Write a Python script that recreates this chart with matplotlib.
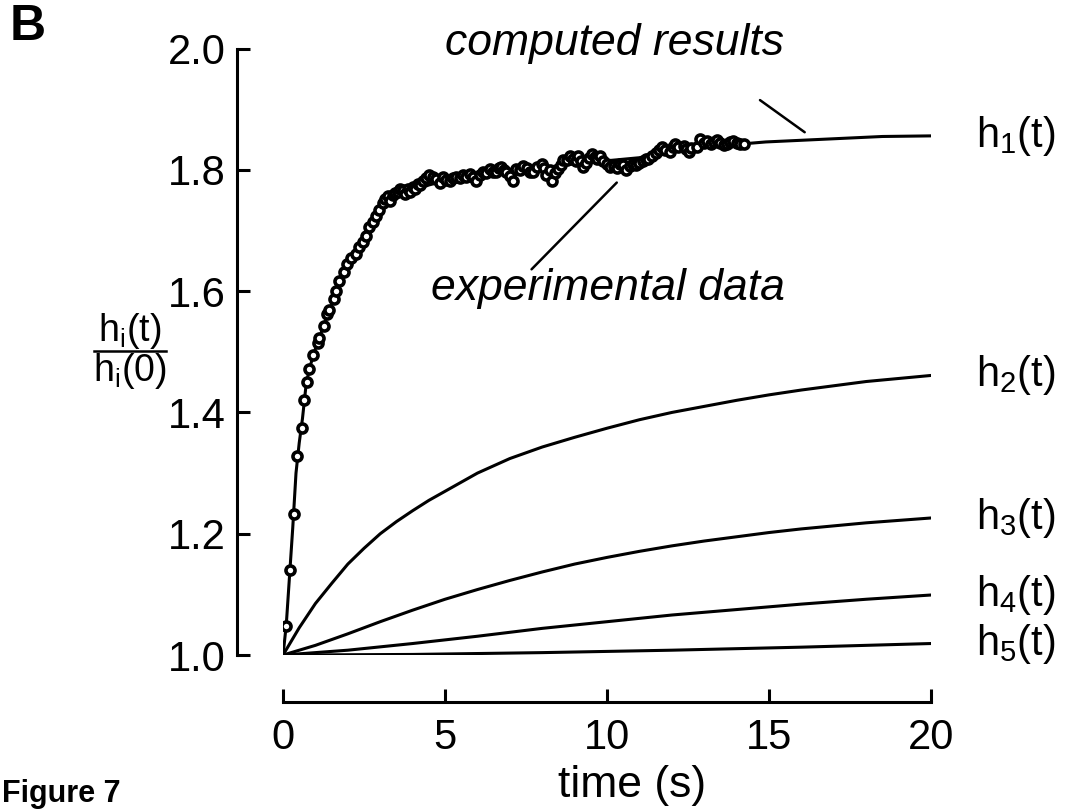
import numpy as np
import matplotlib
matplotlib.use('Agg')
import matplotlib.pyplot as plt
from matplotlib.lines import Line2D

# ---- data ----
# computed h1(t)
t_h1 = [0, 0.1, 0.2, 0.3, 0.4, 0.5, 0.6, 0.7, 0.8, 1.0, 1.2, 1.4, 1.6, 1.8, 2.0,
        2.2, 2.4, 2.6, 2.8, 3.0, 3.2, 3.5, 4.0, 4.5, 5.0, 6.0, 7.5, 9.0, 10.0,
        11.0, 12.0, 13.0, 14.0, 14.9, 16.5, 18.5, 20.0]
h1 = [1.0, 1.05, 1.13, 1.21, 1.30, 1.35, 1.39, 1.44, 1.47, 1.505, 1.535, 1.565,
      1.59, 1.625, 1.645, 1.66, 1.675, 1.695, 1.715, 1.735, 1.745, 1.755, 1.765,
      1.775, 1.782, 1.79, 1.80, 1.81, 1.815, 1.82, 1.83, 1.838, 1.842, 1.846,
      1.850, 1.855, 1.856]

t_h2 = [0, 0.5, 1, 1.5, 2, 2.5, 3, 3.5, 4, 4.5, 5, 6, 7, 8, 9, 10, 11, 12, 13,
        14, 15, 16, 17, 18, 19, 20]
h2 = [1.0, 1.045, 1.085, 1.118, 1.150, 1.176, 1.200, 1.220, 1.238, 1.255, 1.270,
      1.300, 1.324, 1.343, 1.359, 1.374, 1.388, 1.400, 1.410, 1.420, 1.429, 1.437,
      1.444, 1.451, 1.456, 1.461]

t_h3 = [0, 1, 2, 3, 4, 5, 6, 7, 8, 9, 10, 11, 12, 13, 14, 15, 16, 17, 18, 19, 20]
h3 = [1.0, 1.016, 1.035, 1.055, 1.074, 1.092, 1.108, 1.123, 1.137, 1.150, 1.161,
      1.171, 1.180, 1.188, 1.195, 1.202, 1.208, 1.213, 1.218, 1.222, 1.226]

t_h4 = [0, 2, 4, 6, 8, 10, 12, 14, 16, 18, 20]
h4 = [1.0, 1.008, 1.019, 1.031, 1.044, 1.055, 1.066, 1.075, 1.084, 1.092, 1.099]

t_h5 = [0, 4, 8, 12, 16, 20]
h5 = [1.0, 1.001, 1.004, 1.008, 1.013, 1.019]

# experimental data (open circles)
t_exp = [0.10, 0.22, 0.34, 0.44, 0.57, 0.65, 0.73, 0.80, 0.94, 1.07, 1.11, 1.25,
         1.37, 1.42, 1.58, 1.63, 1.73, 1.87, 1.97, 2.10, 2.25, 2.35, 2.46, 2.56,
         2.66, 2.79, 2.87, 2.97, 3.07, 3.15, 3.23, 3.30, 3.38, 3.45, 3.54, 3.62,
         3.69, 3.77, 3.85, 3.92, 4.00, 4.08, 4.16, 4.24, 4.31, 4.40, 4.52, 4.62,
         4.73, 4.83, 4.93, 5.04, 5.14, 5.25, 5.35, 5.45, 5.55, 5.66, 5.76, 5.86,
         5.96, 6.07, 6.17, 6.27, 6.38, 6.48, 6.58, 6.66, 6.73, 6.81, 6.89, 7.00,
         7.10, 7.20, 7.30, 7.41, 7.52, 7.62, 7.72, 7.85, 7.98, 8.05, 8.13, 8.24,
         8.29, 8.38, 8.49, 8.57, 8.65, 8.75, 8.85, 8.95, 9.03, 9.11, 9.19, 9.27,
         9.36, 9.45, 9.53, 9.62, 9.70, 9.78, 9.88, 9.99, 10.1, 10.2, 10.3, 10.4,
         10.5, 10.6, 10.7, 10.8, 10.9, 11.0, 11.1, 11.2, 11.27, 11.4, 11.5, 11.6,
         11.69, 11.8, 11.95, 12.05, 12.1, 12.2, 12.36, 12.45, 12.52, 12.6, 12.77,
         12.88, 13.0, 13.1, 13.2, 13.3, 13.4, 13.5, 13.6, 13.7, 13.8, 13.9, 14.0,
         14.1, 14.22]
h_exp = [1.048, 1.140, 1.233, 1.328, 1.375, 1.420, 1.451, 1.472, 1.495, 1.515,
         1.522, 1.542, 1.562, 1.569, 1.587, 1.600, 1.617, 1.632, 1.645, 1.654,
         1.662, 1.672, 1.681, 1.691, 1.705, 1.714, 1.724, 1.733, 1.746, 1.752,
         1.757, 1.748, 1.758, 1.762, 1.763, 1.768, 1.766, 1.760, 1.769, 1.764,
         1.771, 1.768, 1.777, 1.775, 1.782, 1.786, 1.791, 1.788, 1.785, 1.779,
         1.788, 1.783, 1.782, 1.786, 1.788, 1.786, 1.791, 1.789, 1.793, 1.788,
         1.782, 1.792, 1.796, 1.794, 1.802, 1.796, 1.796, 1.803, 1.805, 1.799,
         1.796, 1.790, 1.782, 1.802, 1.800, 1.807, 1.803, 1.797, 1.796, 1.804,
         1.810, 1.803, 1.791, 1.799, 1.782, 1.795, 1.802, 1.808, 1.816, 1.817,
         1.822, 1.818, 1.815, 1.822, 1.814, 1.805, 1.812, 1.820, 1.826, 1.821,
         1.818, 1.822, 1.815, 1.810, 1.805, 1.807, 1.803, 1.810, 1.808, 1.800,
         1.806, 1.810, 1.808, 1.812, 1.815, 1.818, 1.818, 1.822, 1.828, 1.832,
         1.837, 1.832, 1.829, 1.838, 1.843, 1.838, 1.840, 1.835, 1.829, 1.836,
         1.837, 1.851, 1.845, 1.848, 1.843, 1.846, 1.850, 1.845, 1.841, 1.843,
         1.846, 1.848, 1.845, 1.843, 1.843]

curves = [(t_h1, h1, r'$h_1(t)$'), (t_h2, h2, r'$h_2(t)$'), (t_h3, h3, r'$h_3(t)$'),
          (t_h4, h4, r'$h_4(t)$'), (t_h5, h5, r'$h_5(t)$')]

xticks = [0, 5, 10, 15, 20]
yticks = [1.0, 1.2, 1.4, 1.6, 1.8, 2.0]

# annotation pointers (line start -> target on curve)
comp_txt = (15.46, 1.99)
comp_from, comp_to = (14.72, 1.915), (16.1, 1.862)
exp_txt = (15.49, 1.585)
exp_from, exp_to = (7.67, 1.636), (10.3, 1.779)

### PLOTTING
plt.rcParams['font.family'] = ['Liberation Sans', 'DejaVu Sans']
plt.rcParams.update({'mathtext.default': 'regular'})

fig = plt.figure(figsize=(10.77, 8.09), dpi=100)
ax = fig.add_axes([0.2628, 0.1903, 0.6017, 0.7497])

lw = 2.2
for tt, hh, lab in curves:
    ax.plot(tt, hh, 'k', lw=lw, solid_capstyle='butt')
    ax.annotate(lab, xy=(tt[-1], hh[-1]), xytext=(32, 0), textcoords='offset points',
                ha='left', va='center', fontsize=30)

ax.plot(t_exp, h_exp, 'o', mfc='white', mec='k', ms=6.5, mew=2.6, ls='none')

ax.annotate('', xy=comp_to, xytext=comp_from,
            arrowprops=dict(arrowstyle='-', lw=1.8, color='k', shrinkA=0, shrinkB=0))
ax.annotate('', xy=exp_to, xytext=exp_from,
            arrowprops=dict(arrowstyle='-', lw=1.8, color='k', shrinkA=0, shrinkB=0))
ax.text(comp_txt[0], comp_txt[1], 'computed results', style='italic', fontsize=32,
        ha='right', va='baseline')
ax.text(exp_txt[0], exp_txt[1], 'experimental data', style='italic', fontsize=32,
        ha='right', va='baseline')

ax.set_xlim(0, 20)
ax.set_ylim(1, 2)
for s in ['top', 'right']:
    ax.spines[s].set_visible(False)
ax.spines['left'].set_position(('outward', 33))
ax.spines['bottom'].set_position(('outward', 34))
ax.spines['left'].set_bounds(1, 2)
ax.spines['bottom'].set_bounds(0, 20)
ax.spines['left'].set_linewidth(2.2)
ax.spines['bottom'].set_linewidth(2.2)

ax.set_xticks(xticks)
ax.set_xticklabels([str(v) for v in xticks], fontsize=30)
ax.set_yticks(yticks)
ax.set_yticklabels([f'{v:.1f}' for v in yticks], fontsize=30)
ax.tick_params(direction='in', length=9.4, width=2.2, color='k')
ax.tick_params(axis='y', pad=8.6)
ax.tick_params(axis='x', pad=11.5)

ax.set_xlabel('time (s)', fontsize=32)
ax.xaxis.set_label_coords(0.539, -0.181)

# y label as a stacked fraction (one text, two lines, bar drawn between)
fig.text(130/1077, 1-351/809, '$h_i(t)$\n$h_i(0)$', ha='center', va='center',
         fontsize=27, linespacing=1.0, multialignment='center')
fig.add_artist(Line2D([94/1077, 166/1077], [1-351/809, 1-351/809],
                      transform=fig.transFigure, color='k', lw=1.8))

fig.text(10/1077, 1-4/809, 'B', ha='left', va='top', fontsize=36, weight='bold')
fig.text(2/1077, 1-779/809, 'Figure 7', ha='left', va='top', fontsize=22, weight='bold')

plt.savefig('out.png', dpi=100)
